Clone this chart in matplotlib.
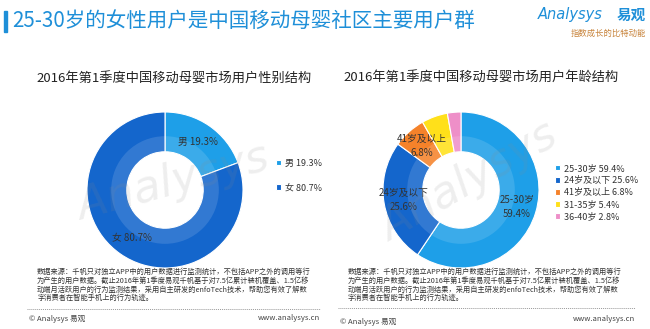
import matplotlib
matplotlib.use('Agg')
import numpy as np
import matplotlib.pyplot as plt
from matplotlib.patches import Rectangle
from matplotlib.lines import Line2D

plt.rcParams['font.family'] = ['Noto Sans CJK SC', 'DejaVu Sans']

# data
gender_labels = ['男', '女']
gender_values = [19.3, 80.7]
gender_colors = ['#1E9FE8', '#1466CC']

age_labels = ['25-30岁', '24岁及以下', '41岁及以上', '31-35岁', '36-40岁']
age_values = [59.4, 25.6, 6.8, 5.4, 2.8]
age_colors = ['#1E9FE8', '#1466CC', '#F5822A', '#FFE01A', '#EE8FC8']

main_title = '25-30岁的女性用户是中国移动母婴社区主要用户群'
chart_titles = ['2016年第1季度中国移动母婴市场用户性别结构', '2016年第1季度中国移动母婴市场用户年龄结构']
note_lines = [
    '数据来源：千帆只对独立APP中的用户数据进行监测统计，不包括APP之外的调用等行',
    '为产生的用户数据。截止2016年第1季度易观千帆基于对7.5亿累计装机覆盖、1.5亿移',
    '动端月活跃用户的行为监测结果，采用自主研发的enfoTech技术，帮助您有效了解数',
    '字消费者在智能手机上的行为轨迹。',
]

W, H = 650, 329
BLUE = '#1E8FD8'


def fx(px):
    return px / W


def fy(py):
    return 1 - py / H


fig = plt.figure(figsize=(W / 100, H / 100), dpi=100)
fig.patch.set_facecolor('white')

# header
fig.patches.append(Rectangle((fx(4), fy(32)), 2.5 / W, 21 / H, color=BLUE,
                             transform=fig.transFigure, figure=fig))
fig.text(fx(12), fy(21), main_title, fontsize=14.8, color=BLUE, va='center', ha='left')
fig.text(fx(538), fy(15), 'Analysys', fontsize=10.5, color=BLUE, style='italic',
         va='center', ha='left', family=['DejaVu Sans'])
fig.text(fx(646), fy(15), '易观', fontsize=10.5, color=BLUE, weight='bold',
         va='center', ha='right')
fig.text(fx(646), fy(33), '指数成长的比特动能', fontsize=6, color='#C8843C',
         va='center', ha='right', style='italic')


def donut(cx, cy, values, colors, names, labelled, title, title_x, legend_x, legend_y, spacing, mark_angle):
    r = 78
    ax = fig.add_axes([fx(cx - r), fy(cy + r), 2 * r / W, 2 * r / H])
    wedges, _ = ax.pie(values, colors=colors, radius=1, startangle=90, counterclock=False,
                       wedgeprops=dict(width=0.51, edgecolor='white', linewidth=0.8))
    # lighter inner band
    ax.pie([1], colors=['white'], radius=0.69,
           wedgeprops=dict(width=0.2, alpha=0.13, linewidth=0))
    ax.set_xlim(-1, 1)
    ax.set_ylim(-1, 1)
    ax.set_aspect('equal')
    ax.axis('off')

    for w, name, v in zip(wedges, names, values):
        if name not in labelled:
            continue
        ang = np.deg2rad((w.theta1 + w.theta2) / 2)
        x, y = 0.75 * np.cos(ang), 0.75 * np.sin(ang)
        if labelled[name]:
            txt = f'{name}\n{v}%'
        else:
            txt = f'{name} {v}%'
        ax.text(x, y, txt, ha='center', va='center', fontsize=7, color='#333333',
                linespacing=1.5)

    # watermark
    ax.text(0.1, 0.1, 'Analysys', fontsize=32, color='#8a8a8a', alpha=0.14,
            rotation=mark_angle, ha='center', va='center', style='italic',
            family=['DejaVu Sans'], zorder=5)

    fig.text(fx(title_x), fy(78), title, fontsize=9.5, color='#222222',
             ha='center', va='center')

    leg = ax.legend(wedges, [f'{n} {v}%' for n, v in zip(names, values)],
                    loc='center left', bbox_to_anchor=(fx(legend_x), fy(legend_y)),
                    bbox_transform=fig.transFigure, frameon=False, fontsize=6.5,
                    handlelength=0.6, handleheight=0.6, handletextpad=0.4,
                    labelspacing=spacing, borderpad=0, borderaxespad=0)
    for t in leg.get_texts():
        t.set_color('#333333')
    return ax


donut(165, 190, gender_values, gender_colors, gender_labels,
      {'男': False, '女': False}, chart_titles[0], 174, 276, 175.5, 1.75, 15)
donut(461, 190, age_values, age_colors, age_labels,
      {'25-30岁': True, '24岁及以下': True, '41岁及以上': True}, chart_titles[1],
      481, 555, 192.5, 0.35, 30)

# footers
for x0, x1, liney, cpy, wwwy in [(27, 320, 309, 319, 318), (338, 635, 308, 322, 319)]:
    for i, line in enumerate(note_lines):
        fig.text(fx(x0 + 10), fy(272 + i * 8.8), line, fontsize=5.2, color='#333333',
                 ha='left', va='center')
    fig.lines.append(Line2D([fx(x0), fx(x1)], [fy(liney), fy(liney)], color='#999999',
                            linewidth=0.7, linestyle=(0, (1, 1)), transform=fig.transFigure))
    fig.text(fx(x0 + 2), fy(cpy), '© Analysys 易观', fontsize=5.5, color='#444444',
             ha='left', va='center')
    fig.text(fx(x1), fy(wwwy), 'www.analysys.cn', fontsize=5.5, color='#444444',
             ha='right', va='center')

fig.savefig('out.png', dpi=100, facecolor='white')
